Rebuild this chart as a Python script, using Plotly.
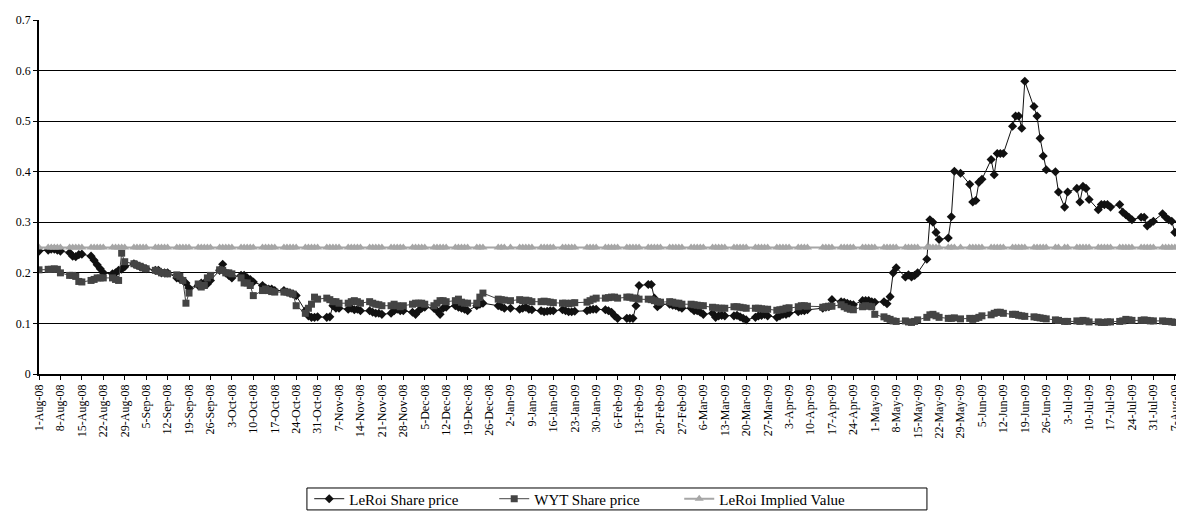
import pandas as pd
import plotly.graph_objects as go

# ---------------- data ----------------
START = "2008-08-01"
END = "2009-08-10"
HOLIDAYS = ["2008-12-25", "2008-12-26", "2009-01-01", "2009-01-26",
            "2009-04-10", "2009-04-13", "2009-05-28", "2009-07-01"]

# LeRoi share price: first day (Fri 1-Aug-08), 53 Mon-Fri weeks, last day (Mon 10-Aug-09)
leroi_first = [0.243]
leroi_weeks = [
    [0.245, 0.247, 0.247, 0.245, 0.243],
    [0.240, 0.233, 0.232, 0.236, 0.237],
    [0.233, 0.225, 0.216, 0.208, 0.200],
    [0.198, 0.200, 0.205, 0.207, 0.212],
    [0.218, 0.215, 0.212, 0.210, 0.208],
    [0.205, 0.205, 0.200, 0.200, 0.200],
    [0.190, 0.188, 0.185, 0.180, 0.170],
    [0.175, 0.180, 0.180, 0.178, 0.185],
    [0.205, 0.217, 0.200, 0.195, 0.190],
    [0.195, 0.195, 0.190, 0.187, 0.182],
    [0.175, 0.170, 0.168, 0.168, 0.165],
    [0.165, 0.162, 0.160, 0.158, 0.155],
    [0.125, 0.115, 0.112, 0.112, 0.113],
    [0.112, 0.113, 0.135, 0.130, 0.130],
    [0.128, 0.130, 0.127, 0.128, 0.125],
    [0.125, 0.122, 0.120, 0.120, 0.118],
    [0.120, 0.125, 0.128, 0.125, 0.125],
    [0.122, 0.118, 0.125, 0.130, 0.132],
    [0.130, 0.125, 0.118, 0.130, 0.132],
    [0.135, 0.132, 0.130, 0.128, 0.125],
    [0.135, 0.138, 0.140, 0.140, 0.140],
    [0.135, 0.133, 0.130, 0.130, 0.130],
    [0.128, 0.130, 0.132, 0.128, 0.127],
    [0.125, 0.123, 0.124, 0.125, 0.125],
    [0.127, 0.125, 0.123, 0.123, 0.124],
    [0.125, 0.125, 0.127, 0.128, 0.128],
    [0.127, 0.125, 0.122, 0.115, 0.110],
    [0.110, 0.110, 0.110, 0.135, 0.175],
    [0.177, 0.177, 0.150, 0.133, 0.138],
    [0.138, 0.136, 0.135, 0.132, 0.130],
    [0.130, 0.125, 0.125, 0.122, 0.118],
    [0.120, 0.112, 0.115, 0.116, 0.115],
    [0.115, 0.116, 0.113, 0.110, 0.107],
    [0.112, 0.115, 0.116, 0.118, 0.115],
    [0.112, 0.115, 0.118, 0.118, 0.120],
    [0.123, 0.125, 0.125, 0.127, 0.127],
    [0.130, 0.130, 0.132, 0.133, 0.147],
    [0.143, 0.142, 0.140, 0.138, 0.137],
    [0.145, 0.145, 0.145, 0.143, 0.142],
    [0.143, 0.139, 0.153, 0.200, 0.210],
    [0.192, 0.196, 0.192, 0.195, 0.200],
    [0.227, 0.305, 0.300, 0.280, 0.266],
    [0.269, 0.311, 0.401, 0.398, 0.397],
    [0.375, 0.340, 0.343, 0.379, 0.385],
    [0.424, 0.394, 0.436, 0.436, 0.436],
    [0.490, 0.510, 0.510, 0.486, 0.579],
    [0.529, 0.510, 0.466, 0.431, 0.404],
    [0.400, 0.360, 0.345, 0.330, 0.360],
    [0.367, 0.340, 0.371, 0.367, 0.345],
    [0.325, 0.335, 0.335, 0.335, 0.330],
    [0.335, 0.320, 0.315, 0.310, 0.305],
    [0.310, 0.310, 0.293, 0.298, 0.302],
    [0.317, 0.310, 0.305, 0.302, 0.280],
]
leroi_last = [0.280]

# WYT share price, same layout
wyt_first = [0.206]
wyt_weeks = [
    [0.207, 0.207, 0.208, 0.207, 0.200],
    [0.195, 0.195, 0.193, 0.183, 0.182],
    [0.185, 0.187, 0.190, 0.190, 0.190],
    [0.190, 0.187, 0.185, 0.239, 0.222],
    [0.218, 0.215, 0.213, 0.210, 0.208],
    [0.205, 0.203, 0.200, 0.200, 0.198],
    [0.196, 0.193, 0.185, 0.140, 0.160],
    [0.178, 0.172, 0.175, 0.190, 0.195],
    [0.206, 0.205, 0.200, 0.200, 0.198],
    [0.190, 0.180, 0.180, 0.175, 0.155],
    [0.165, 0.168, 0.165, 0.163, 0.162],
    [0.162, 0.162, 0.160, 0.158, 0.135],
    [0.120, 0.130, 0.138, 0.152, 0.148],
    [0.150, 0.147, 0.143, 0.143, 0.140],
    [0.140, 0.143, 0.145, 0.143, 0.140],
    [0.143, 0.140, 0.138, 0.137, 0.135],
    [0.135, 0.138, 0.135, 0.133, 0.135],
    [0.138, 0.140, 0.140, 0.140, 0.138],
    [0.135, 0.140, 0.145, 0.145, 0.143],
    [0.145, 0.148, 0.142, 0.140, 0.140],
    [0.140, 0.152, 0.160, 0.150, 0.150],
    [0.148, 0.147, 0.146, 0.145, 0.145],
    [0.147, 0.145, 0.146, 0.145, 0.143],
    [0.143, 0.144, 0.143, 0.142, 0.141],
    [0.140, 0.140, 0.139, 0.140, 0.141],
    [0.142, 0.142, 0.145, 0.148, 0.150],
    [0.150, 0.151, 0.152, 0.152, 0.150],
    [0.152, 0.152, 0.150, 0.150, 0.148],
    [0.148, 0.147, 0.145, 0.143, 0.142],
    [0.143, 0.142, 0.140, 0.140, 0.138],
    [0.138, 0.137, 0.136, 0.135, 0.135],
    [0.132, 0.131, 0.130, 0.130, 0.130],
    [0.133, 0.133, 0.132, 0.131, 0.130],
    [0.130, 0.130, 0.129, 0.128, 0.128],
    [0.126, 0.127, 0.128, 0.130, 0.131],
    [0.133, 0.135, 0.135, 0.134, 0.134],
    [0.132, 0.132, 0.133, 0.134, 0.134],
    [0.137, 0.133, 0.130, 0.128, 0.127],
    [0.133, 0.135, 0.134, 0.133, 0.118],
    [0.113, 0.110, 0.108, 0.105, 0.104],
    [0.105, 0.103, 0.102, 0.104, 0.107],
    [0.112, 0.117, 0.118, 0.115, 0.112],
    [0.110, 0.110, 0.111, 0.110, 0.109],
    [0.110, 0.108, 0.110, 0.112, 0.115],
    [0.117, 0.120, 0.122, 0.122, 0.120],
    [0.118, 0.118, 0.116, 0.115, 0.114],
    [0.113, 0.112, 0.111, 0.110, 0.109],
    [0.107, 0.106, 0.105, 0.104, 0.104],
    [0.105, 0.104, 0.106, 0.105, 0.103],
    [0.103, 0.102, 0.102, 0.103, 0.103],
    [0.104, 0.105, 0.108, 0.107, 0.106],
    [0.106, 0.107, 0.106, 0.105, 0.105],
    [0.105, 0.104, 0.104, 0.103, 0.102],
]
wyt_last = [0.102]

IMPLIED_VALUE = 0.25

SERIES_NAMES = ["LeRoi Share price", "WYT Share price", "LeRoi Implied Value"]

# ---------------- build ----------------
dates = pd.bdate_range(START, END)
leroi = leroi_first + [v for w in leroi_weeks for v in w] + leroi_last
wyt = wyt_first + [v for w in wyt_weeks for v in w] + wyt_last
n = min(len(dates), len(leroi), len(wyt))
dates = dates[:n]
leroi = leroi[:n]
wyt = wyt[:n]
hol = set(pd.to_datetime(HOLIDAYS))
mask = [d not in hol for d in dates]
dates_k = [d for d, m in zip(dates, mask) if m]
leroi_k = [v for v, m in zip(leroi, mask) if m]
wyt_k = [v for v, m in zip(wyt, mask) if m]
implied_k = [IMPLIED_VALUE for _ in dates_k]

tick_dates = pd.date_range("2008-08-01", "2009-08-07", freq="7D")
tick_text = [f"{d.day}-{d.strftime('%b')}-{d.strftime('%y')}" for d in tick_dates]

FONT = "Liberation Serif"

fig = go.Figure()
fig.add_trace(go.Scatter(
    x=dates_k, y=leroi_k, name=SERIES_NAMES[0], mode="lines+markers",
    line=dict(color="#111111", width=1),
    marker=dict(symbol="diamond", size=7, color="#111111"),
))
fig.add_trace(go.Scatter(
    x=dates_k, y=wyt_k, name=SERIES_NAMES[1], mode="lines+markers",
    line=dict(color="#444444", width=1),
    marker=dict(symbol="square", size=7, color="#444444"),
))
fig.add_trace(go.Scatter(
    x=dates_k, y=implied_k, name=SERIES_NAMES[2], mode="lines+markers",
    line=dict(color="#a6a6a6", width=2),
    marker=dict(symbol="triangle-up", size=8, color="#a6a6a6"),
))

# legend frame (the page body has an 8px margin, figure sized to fit the window)
fig.add_shape(type="rect", xref="paper", yref="paper",
              x0=0.234, x1=0.7755, y0=-0.384, y1=-0.322,
              line=dict(color="black", width=1), fillcolor="rgba(0,0,0,0)")

fig.update_layout(
    width=1176, height=515,
    margin=dict(l=31, r=0, t=12, b=149),
    paper_bgcolor="white", plot_bgcolor="white",
    font=dict(family=FONT, size=12, color="black"),
    showlegend=True,
    legend=dict(
        orientation="h", x=0.236, xanchor="left", y=-0.353, yanchor="middle",
        borderwidth=0, bgcolor="rgba(0,0,0,0)",
        font=dict(family=FONT, size=15, color="black"),
        itemwidth=30, entrywidth=140, entrywidthmode="pixels",
    ),
)
fig.update_xaxes(
    type="date", range=[START, END],
    tickvals=list(tick_dates), ticktext=tick_text, tickangle=-90,
    showgrid=False, showline=True, linecolor="black", linewidth=1.5,
    ticks="outside", ticklen=4, tickcolor="black",
    tickfont=dict(family=FONT, size=12, color="black"),
    zeroline=False,
)
fig.update_yaxes(
    range=[0, 0.7], dtick=0.1,
    showgrid=True, gridcolor="black", gridwidth=1,
    showline=True, linecolor="black", linewidth=1.5,
    ticks="outside", ticklen=4, tickcolor="black",
    tickfont=dict(family=FONT, size=12, color="black"),
    zeroline=False,
)

fig.write_html("out.html")
